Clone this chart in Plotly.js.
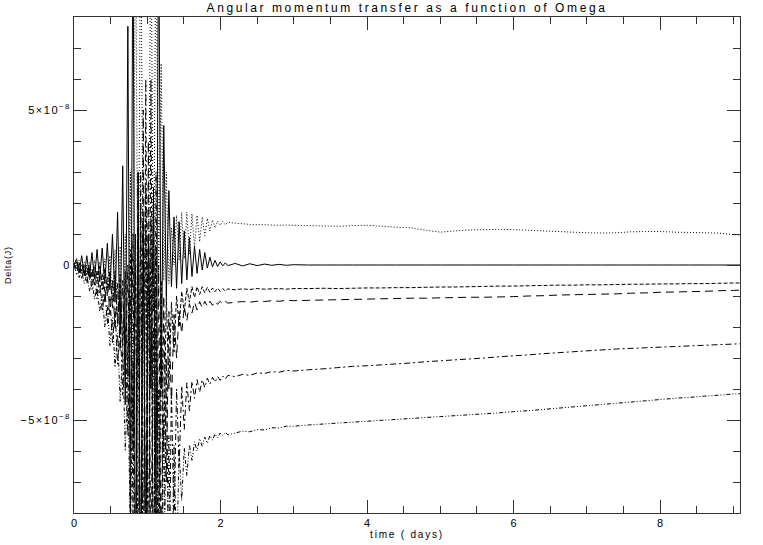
<!DOCTYPE html>
<html>
<head>
<meta charset="utf-8">
<script src="https://cdn.plot.ly/plotly-3.0.1.min.js"></script>
<style>
  html, body { margin: 0; padding: 0; background: #fff; }
  #chart { width: 763px; height: 545px; }
  .gtitle { letter-spacing: 2.6px; }
  .xtitle { letter-spacing: 1.8px; }
  .ytick text { letter-spacing: 1.5px; }
  .annotation-text { letter-spacing: 0.8px; }
</style>
</head>
<body>
<div id="chart"></div>
<script>
// time (days)
const time = [
  0,0.035,0.07,0.105,0.14,0.175,0.21,0.245,0.28,0.315,
  0.35,0.385,0.42,0.455,0.49,0.525,0.56,0.595,0.63,0.665,
  0.7,0.735,0.77,0.805,0.84,0.875,0.91,0.945,0.98,1.015,
  1.05,1.085,1.12,1.155,1.19,1.225,1.26,1.295,1.33,1.365,
  1.4,1.435,1.47,1.505,1.54,1.575,1.61,1.645,1.68,1.715,
  1.75,1.785,1.82,1.855,1.89,1.925,1.96,1.995,2.03,2.065,
  2.1,
  2.2,2.3,2.4,2.5,2.6,2.7,2.8,2.9,3.0,
  3.2,3.4,3.6,3.8,4.0,4.2,4.4,4.6,4.8,5.0,5.2,5.4,5.6,5.8,6.0,6.2,6.4,6.6,6.8,7.0,
  7.2,7.4,7.6,7.8,8.0,8.2,8.4,8.6,8.8,9.0,9.1
];

// Delta(J) in units of 1e-8
const solidSeries = [
  0,0.2,-0.25,0.3,-0.35,0.3,-0.4,0.4,-0.45,0.5,
  -0.5,0.55,-0.6,0.7,-0.8,1.0,-1.2,1.7,-2.2,3.2,
  -4.5,7.7,-9,12,-12,3,-12,1.5,-10,1,
  -4,2.5,-8,12,-4,4.5,-1.0,2.4,-0.7,1.55,
  -0.75,1.4,-0.6,1.1,-0.48,0.9,-0.37,0.6,-0.27,0.5,
  -0.16,0.4,-0.1,0.25,-0.06,0.15,-0.05,0.1,-0.03,0.07,
  -0.02,
  0.05,-0.03,0.04,-0.02,0.03,-0.01,0.02,-0.01,0.01,
  0,0,0,0,0,0,0,0,0,0,0,0,0,0,0,0,0,0,0,0,0,0,0,0,0,0,0,0,0,0,0
];

const dottedSeries = [
  0,-0.1,0.15,-0.2,0.1,-0.3,0.1,-0.4,0.15,-0.5,
  0.1,-0.6,0.2,-0.8,0.3,-1.2,0.5,-2.0,0.6,-3.0,
  1.0,-3.7,3,-3.7,12,-3.2,12,-1,1,-1.5,
  12,-1.5,12,-0.6,6.5,-0.5,3,-0.6,1.2,0.0,
  1.6,0.15,1.7,0.2,1.7,0.35,1.65,0.55,1.6,0.75,
  1.55,0.95,1.5,1.1,1.45,1.2,1.42,1.28,1.4,1.3,
  1.38,
  1.35,1.33,1.31,1.3,1.3,1.29,1.28,1.29,1.28,
  1.27,1.26,1.25,1.27,1.28,1.25,1.22,1.2,1.12,1.06,1.1,1.13,1.14,1.15,1.14,1.12,
  1.1,1.08,1.06,1.04,1.03,1.04,1.07,1.08,1.08,1.06,1.05,1.04,1.03,0.98,0.97
];

const shortDashSeries = [
  0,-0.15,0.05,-0.2,0,-0.3,0,-0.4,-0.05,-0.6,
  -0.05,-0.8,-0.1,-1.0,-0.2,-1.4,-0.2,-1.9,-0.3,-2.6,
  -0.2,-3.5,0.5,-6,1,-12,2,-12,2.5,-12,
  1.5,-12,0.5,-9,-0.5,-6,-1.0,-4,-1.2,-2.8,
  -1.0,-2.0,-0.85,-1.5,-0.75,-1.2,-0.7,-1.05,-0.7,-0.95,
  -0.7,-0.9,-0.72,-0.88,-0.74,-0.86,-0.75,-0.85,-0.76,-0.84,
  -0.77,
  -0.8,-0.77,-0.79,-0.76,-0.78,-0.77,-0.76,-0.78,-0.76,
  -0.76,-0.75,-0.76,-0.75,-0.74,-0.74,-0.73,-0.73,-0.72,-0.71,-0.71,-0.7,-0.69,-0.68,-0.68,-0.67,
  -0.66,-0.65,-0.65,-0.64,-0.64,-0.63,-0.62,-0.62,-0.61,-0.61,-0.6,-0.6,-0.59,-0.58,-0.58
];

const longDashSeries = [
  0,0.1,-0.25,0.05,-0.35,0,-0.5,-0.1,-0.65,-0.2,
  -0.9,-0.3,-1.2,-0.4,-1.6,-0.5,-2.1,-0.6,-2.8,-0.5,
  -3.8,0,-6,1,-12,3,-12,5,-12,4,
  -12,2,-12,0,-10,-1,-7,-1.5,-4.5,-1.6,
  -3.0,-1.5,-2.2,-1.35,-1.8,-1.25,-1.55,-1.2,-1.45,-1.18,
  -1.38,-1.17,-1.33,-1.17,-1.3,-1.17,-1.27,-1.17,-1.25,-1.17,
  -1.23,
  -1.2,-1.18,-1.2,-1.17,-1.18,-1.15,-1.17,-1.14,-1.15,
  -1.14,-1.13,-1.12,-1.11,-1.1,-1.09,-1.08,-1.07,-1.07,-1.06,-1.05,-1.04,-1.04,-1.03,-1.02,-1.0,
  -0.99,-0.97,-0.96,-0.95,-0.94,-0.93,-0.91,-0.9,-0.88,-0.87,-0.86,-0.85,-0.83,-0.82,-0.81
];

const dashDotSeries = [
  0,-0.3,0.1,-0.45,-0.05,-0.6,-0.1,-0.8,-0.25,-1.1,
  -0.45,-1.5,-0.7,-1.9,-1.0,-2.5,-1.4,-3.2,-1.8,-4.2,
  -2.0,-5.5,-1.0,-8,0,-12,3,-12,6,-12,
  6,-12,3,-12,-1,-12,-3,-11,-4,-8.5,
  -4.0,-6.5,-3.9,-5.3,-3.8,-4.7,-3.75,-4.3,-3.7,-4.1,
  -3.7,-3.95,-3.65,-3.85,-3.62,-3.78,-3.6,-3.72,-3.58,-3.68,
  -3.56,
  -3.6,-3.53,-3.56,-3.48,-3.5,-3.44,-3.46,-3.4,-3.42,
  -3.38,-3.35,-3.31,-3.27,-3.25,-3.22,-3.19,-3.16,-3.12,-3.09,-3.06,-3.03,-3.0,-2.96,-2.93,-2.9,
  -2.86,-2.83,-2.8,-2.77,-2.74,-2.71,-2.69,-2.67,-2.65,-2.63,-2.61,-2.59,-2.57,-2.55,-2.54
];

const dashDotDotSeries = [
  0,-0.1,-0.4,-0.2,-0.6,-0.3,-0.85,-0.45,-1.1,-0.7,
  -1.5,-0.95,-2.0,-1.3,-2.6,-1.7,-3.3,-2.2,-4.4,-2.8,
  -6,-3.5,-9,-3,-12,-1,-12,1,-12,0,
  -12,-2,-12,-4,-12,-5,-12,-5.5,-12,-5.8,
  -9.5,-6.0,-7.6,-5.9,-6.8,-5.8,-6.3,-5.7,-6.0,-5.6,
  -5.85,-5.55,-5.75,-5.5,-5.65,-5.45,-5.58,-5.42,-5.52,-5.4,
  -5.48,
  -5.42,-5.36,-5.38,-5.31,-5.32,-5.25,-5.26,-5.2,-5.2,
  -5.16,-5.13,-5.1,-5.07,-5.04,-5.01,-4.98,-4.95,-4.92,-4.89,-4.86,-4.83,-4.8,-4.77,-4.73,-4.7,
  -4.66,-4.62,-4.58,-4.54,-4.5,-4.46,-4.42,-4.38,-4.34,-4.3,-4.27,-4.23,-4.2,-4.16,-4.15
];

const xTickVals = [0, 2, 4, 6, 8];
const xTickText = ['0', '2', '4', '6', '8'];
const yTickVals = [-5, 0, 5];
const yTickText = ['\u22125\u00d710<sup>\u22128</sup>', '0', '5\u00d710<sup>\u22128</sup>'];

const FONT = 'Liberation Sans, Arial, sans-serif';

function tr(y, dash, w) {
  return {
    x: time, y: y, type: 'scatter', mode: 'lines',
    line: { color: '#000', width: w || 1, dash: dash, simplify: false },
    hoverinfo: 'skip'
  };
}

const data = [
  tr(solidSeries, 'solid', 1),
  tr(dottedSeries, '1px,2px', 1),
  tr(shortDashSeries, '4px,2px', 1),
  tr(longDashSeries, '8px,5px', 1),
  tr(dashDotSeries, '6px,3px,2px,3px', 1),
  tr(dashDotDotSeries, '4px,2px,1px,2px,1px,2px', 1)
];

const axisCommon = {
  showgrid: false, zeroline: false,
  showline: true, linecolor: '#333', linewidth: 1, mirror: 'ticks',
  ticks: 'inside', ticklen: 13, tickwidth: 1, tickcolor: '#333',
  tickfont: { family: FONT, size: 11, color: '#000' }
};

const layout = {
  width: 763, height: 545,
  margin: { l: 74, r: 23, t: 17, b: 32, pad: 0 },
  paper_bgcolor: '#fff', plot_bgcolor: '#fff',
  showlegend: false,
  title: {
    text: 'Angular momentum transfer as a function of Omega',
    font: { family: FONT, size: 12, color: '#000' },
    xref: 'paper', x: 0.5, xanchor: 'center',
    yref: 'container', y: 0.986, yanchor: 'middle'
  },
  xaxis: Object.assign({}, axisCommon, {
    range: [0, 9.09],
    tickmode: 'array', tickvals: xTickVals, ticktext: xTickText,
    minor: { tickmode: 'linear', tick0: 0, dtick: 0.5, ticks: 'inside', ticklen: 7, tickcolor: '#333', showgrid: false },
    title: { text: 'time ( days)', font: { family: FONT, size: 10, color: '#000' }, standoff: 0 },
    automargin: false
  }),
  yaxis: Object.assign({}, axisCommon, {
    range: [-8, 8],
    tickmode: 'array', tickvals: yTickVals, ticktext: yTickText,
    tickfont: { family: FONT, size: 11, color: '#000' },
    minor: { tickmode: 'linear', tick0: 0, dtick: 1, ticks: 'inside', ticklen: 7, tickcolor: '#333', showgrid: false },
    automargin: false
  }),
  annotations: [{
    text: 'Delta(J)', textangle: -90,
    xref: 'paper', yref: 'paper', x: -0.099, y: 0.5,
    xanchor: 'center', yanchor: 'middle', showarrow: false,
    font: { family: FONT, size: 9, color: '#000' }
  }]
};

Plotly.newPlot('chart', data, layout, { staticPlot: true, displayModeBar: false });
</script>
</body>
</html>
